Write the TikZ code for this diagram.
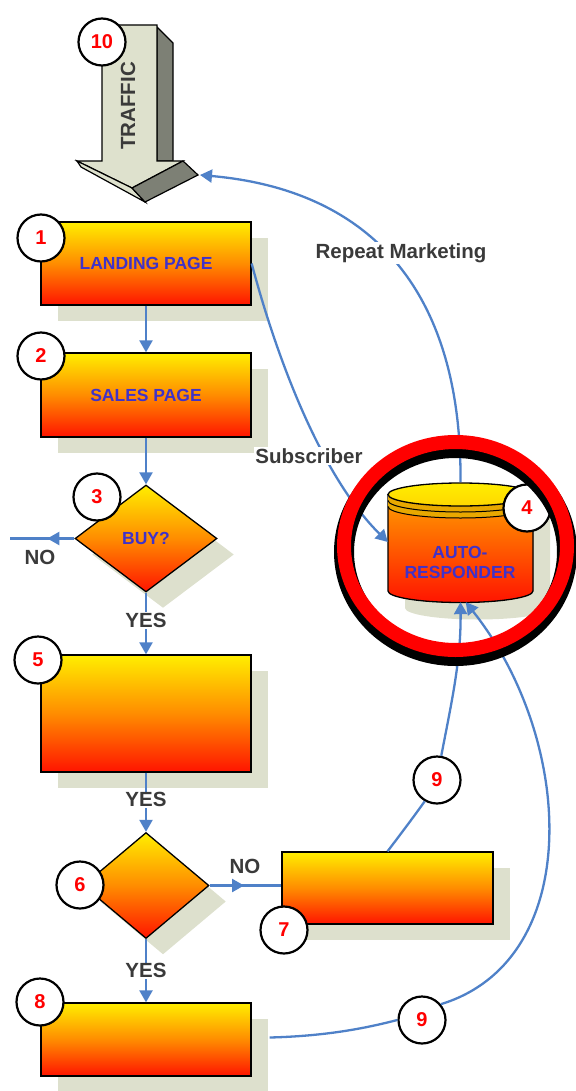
\documentclass[tikz,border=0pt]{standalone}
\usepackage{fontspec}
\setmainfont{Liberation Sans}
\usetikzlibrary{shapes.geometric,arrows.meta,shadows,decorations.markings,calc}

\definecolor{flowblue}{RGB}{79,129,200}
\definecolor{grtop}{RGB}{255,238,0}
\definecolor{grmid}{RGB}{255,140,0}
\definecolor{grbot}{RGB}{255,20,0}
\definecolor{cyltop}{RGB}{255,160,0}
\definecolor{ringband}{RGB}{232,168,0}
\definecolor{shadowgray}{RGB}{221,224,205}
\definecolor{boxtext}{RGB}{64,50,200}
\definecolor{lbltext}{RGB}{58,58,58}
\definecolor{arrowlight}{RGB}{222,225,205}
\definecolor{arrowdark}{RGB}{125,128,117}

\newcommand{\boxfnt}{\fontsize{17.5}{20}\selectfont\bfseries}
\newcommand{\lblfnt}{\fontsize{20.5}{23}\selectfont\bfseries}
\newcommand{\badgefnt}{\fontsize{20}{22}\selectfont\bfseries}

\begin{document}
\begin{tikzpicture}[x=1pt,y=-1pt,
    flow/.style={color=flowblue, line width=2.3pt},
    arrowed/.style={-{Triangle[length=12pt,width=13pt]}},
    midtip/.style={postaction={decorate}, decoration={markings,
        mark=at position #1 with {\arrow{Triangle[length=12pt,width=13pt]}}}},
    box/.style={draw=black, line width=1.3pt, top color=grtop, bottom color=grbot,
        middle color=grmid, minimum width=210pt, text=boxtext, font=\boxfnt,
        drop shadow={shadow xshift=17pt, shadow yshift=-16pt, fill=shadowgray, opacity=1}},
    dec/.style={box, diamond, inner sep=0pt},
    badge/.style={circle, draw=black, line width=2.2pt, fill=white, minimum size=47pt,
        inner sep=0pt, text=red, font=\badgefnt},
    lbl/.style={text=lbltext, font=\lblfnt, fill=white, inner sep=1pt}]
  \useasboundingbox (0,0) rectangle (575,1091);

  % traffic arrow
  \filldraw[fill=arrowdark, line width=1.2pt] (157,27) -- (173,43) -- (173,161) -- (157,161) -- cycle;
  \filldraw[fill=arrowlight, line width=1.2pt] (102,25) -- (157,25) -- (157,161) -- (183,161)
      -- (132,188) -- (77,161) -- (102,161) -- cycle;
  \filldraw[fill=arrowlight, line width=1.2pt] (77,161) -- (132,188) -- (145,202) -- (81,167) -- cycle;
  \filldraw[fill=arrowdark, line width=1.2pt] (132,188) -- (183,161) -- (198,175) -- (145,202) -- cycle;
  \node[rotate=90, text=lbltext, font=\lblfnt] at (128,106) {TRAFFIC};
  \coordinate (traffic) at (200,175);

  % flow boxes
  \node[box, minimum height=83pt] (land) at (146,263.5) {LANDING PAGE};
  \node[box, minimum height=84pt] (sales) at (146,395) {SALES PAGE};
  \node[dec, minimum width=142pt, minimum height=107pt] (buy) at (146,538.5) {BUY?};
  \node[box, minimum height=117pt] (box5) at (146,713.5) {};
  \node[dec, minimum width=126pt, minimum height=106pt] (dec6) at (146,885.5) {};
  \node[box, minimum width=211pt, minimum height=72pt] (box7) at (387.5,888) {};
  \node[box, minimum height=73pt] (box8) at (146,1039.5) {};

  % autoresponder cylinder
  \fill[shadowgray] (405,511.5) -- (405,608) arc[start angle=180, end angle=0, x radius=72.5, y radius=11.5]
      -- (550,511.5) arc[start angle=0, end angle=-180, x radius=72.5, y radius=11.5] -- cycle;
  \filldraw[line width=1.3pt, top color=cyltop, bottom color=grbot] (388,494.5) -- (388,591)
      arc[start angle=180, end angle=0, x radius=72.5, y radius=11.5] -- (533,494.5) -- cycle;
  \fill[ringband] (388,494.5) arc[start angle=180, end angle=0, x radius=72.5, y radius=11.5]
      -- (533,506.5) arc[start angle=0, end angle=180, x radius=72.5, y radius=11.5] -- cycle;
  \draw[line width=1pt] (388,500.5) arc[start angle=180, end angle=0, x radius=72.5, y radius=11.5];
  \draw[line width=1pt] (388,506.5) arc[start angle=180, end angle=0, x radius=72.5, y radius=11.5];
  \filldraw[line width=1.3pt, top color=grtop, bottom color=grtop!70!cyltop] (460.5,494.5)
      ellipse [x radius=72.5, y radius=11.5];
  \node[minimum width=145pt, minimum height=120pt, inner sep=0pt] (auto) at (460.5,542) {};
  \node[text=boxtext, font=\boxfnt, align=center] at (460,562) {AUTO-\\RESPONDER};

  % numbered badges
  \node[badge] (c10) at (102,42) {10};
  \node[badge] (c1) at (41,238) {1};
  \node[badge] (c2) at (41,356) {2};
  \node[badge] (c3) at (97,497) {3};
  \node[badge] (c4) at (527,508) {4};
  \node[badge] (c5) at (38,660) {5};
  \node[badge] (c6) at (80,885) {6};
  \node[badge] (c7) at (284,930) {7};
  \node[badge] (c8) at (40,1002) {8};
  \node[badge] (c9a) at (437,780) {9};
  \node[badge] (c9b) at (422,1020) {9};

  % connectors
  \draw[flow, arrowed] (land) -- (sales);
  \draw[flow, arrowed] (sales) -- (buy);
  \draw[flow, arrowed] (buy) -- node[lbl, pos=0.45] {YES} (box5);
  \draw[flow, arrowed] (box5) -- node[lbl, pos=0.46] {YES} (dec6);
  \draw[flow, arrowed] (dec6) -- node[lbl, pos=0.5] {YES} (box8);
  \coordinate (buyno) at (10,538.5);
  \draw[flow, midtip=0.42] (buy.west) -- (buyno);
  \node[lbl] at (40,557) {NO};
  \draw[flow, midtip=0.48] (dec6.east) -- (dec6.east -| box7.west);
  \node[lbl] at (245,866) {NO};
  \draw[flow, arrowed] (land.east) .. controls (280,370) and (325,480) .. (auto.west);
  \node[lbl] at (309,456) {Subscriber};
  \draw[flow, arrowed] (auto.north) .. controls (462,290) and (370,190) .. (traffic);
  \node[lbl] at (401,253) {Repeat Marketing};
  \draw[flow] (box7.north) .. controls (400,835) and (415,815) .. (c9a.-120);
  \draw[flow, arrowed] (c9a.80) .. controls (452,700) and (461,660) .. (auto.south);
  \draw[flow] ($(box8.east)+(18,-2)$) .. controls (330,1036) and (370,1027) .. (c9b.west);
  \draw[flow, arrowed] (c9b.40) .. controls (585,960) and (575,740) .. (auto.-85);

  % highlight ring
  \draw[black, line width=20pt] (455.5,552) ellipse [x radius=111.5, y radius=104];
  \draw[red, line width=14pt] (455.5,546) ellipse [x radius=111.5, y radius=104];
\end{tikzpicture}
\end{document}
